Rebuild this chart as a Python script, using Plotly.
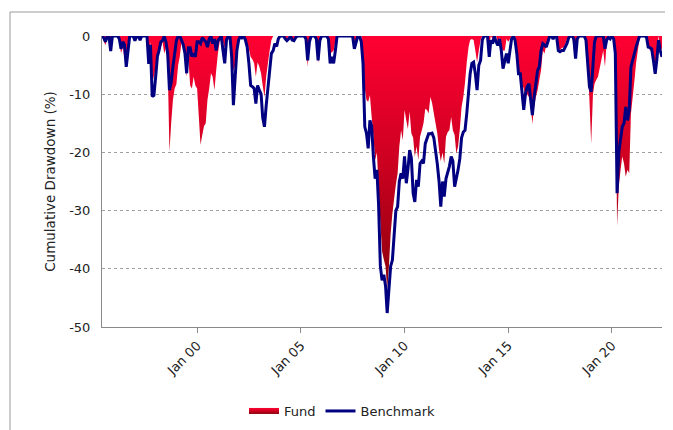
import pandas as pd
import plotly.graph_objects as go

# Monthly month-end observations, May 1995 .. May 2022
start_month = "1995-05-31"
n_months = 325

fund = [
    # 1995 (May-Dec)
    0, -0.8, -1.6, -0.3, 0, -1.5, 0, 0,
    # 1996
    0, 0, -0.5, -3.0, -1.8, -3.9, -4.5, -2.0, 0, 0, 0, -0.3,
    # 1997
    0, 0, -0.3, 0, 0, 0, 0, -5.0, -1.0, -6.0, -7.5, -5.0,
    # 1998
    -4.0, -3.0, -2.0, -1.0, -3.0, -2.0, -5.0, -19.9, -15.0, -11.0, -9.0, -8.3,
    # 1999
    -5.0, -3.6, -1.0, -1.0, -3.0, -7.0, -4.0, -8.5, -9.0, -7.0, -8.5, -9.0,
    # 2000
    -14.0, -18.7, -17.0, -15.5, -15.0, -11.0, -9.0, -6.4, -7.0, -9.3, -6.0, -3.0,
    # 2001
    -1.0, 0, -1.0, -2.0, -0.5, 0, -1.0, -3.0, -6.0, -5.0, -2.0, -1.0,
    # 2002
    0, 0, 0, -0.5, -1.3, -2.2, -3.6, -4.0, -4.7, -7.0, -4.5, -5.3,
    # 2003
    -6.5, -8.5, -10.5, -7.0, -4.7, -2.5, -0.7, 0, 0, 0, 0, 0,
    # 2004
    0, 0, -0.3, -0.5, 0, 0, -0.5, -0.5, 0, 0, 0, 0,
    # 2005
    0, 0, -0.5, -5.3, -1.5, 0, 0, 0, -0.5, -4.7, -1.0, 0,
    # 2006
    0, 0, 0, -0.3, -3.0, -2.8, -2.5, -1.0, 0, 0, 0, 0,
    # 2007
    0, 0, 0, 0, 0, 0, -1.5, -1.0, 0, 0, 0, -3.0,
    # 2008
    -9.0, -11.0, -11.3, -10.2, -13.9, -17.0, -21.3, -20.0, -26.0, -32.0, -37.0, -38.4,
    # 2009
    -39.6, -43.6, -39.6, -34.0, -30.5, -28.0, -25.5, -23.6, -19.0, -16.2, -17.9, -12.7,
    # 2010
    -14.5, -16.0, -13.0, -16.7, -17.5, -20.7, -19.0, -21.3, -17.3, -16.2, -15.0, -12.5,
    # 2011
    -12.7, -13.3, -10.5, -11.5, -13.3, -15.0, -16.7, -19.6, -21.5, -20.0, -21.9, -17.3,
    # 2012
    -16.5, -16.2, -13.9, -16.2, -17.0, -20.2, -19.0, -16.0, -12.2, -10.5, -8.0, -4.5,
    # 2013
    -1.9, -0.7, -0.5, -0.7, -2.5, -4.5, -2.5, -0.7, 0, 0, 0, 0,
    # 2014
    -1.5, 0, -0.5, 0, 0, -1.0, -0.3, -2.0, -2.5, -2.5, -0.5, -1.0,
    # 2015
    -0.5, 0, 0, 0, -1.9, -5.3, -7.0, -8.2, -9.0, -10.5, -10.0, -10.5,
    # 2016
    -11.6, -15.1, -12.2, -10.5, -9.3, -7.6, -5.9, -2.5, -3.0, -1.5, -0.7, 0,
    # 2017
    0, 0, 0, 0, -2.0, -2.5, -2.0, -2.0, -1.5, -0.5, 0, 0,
    # 2018
    0, -2.5, -3.0, -0.5, 0, 0, 0, 0, 0, -5.0, -11.0, -18.5,
    # 2019
    -10.0, -8.2, -7.5, -7.0, -5.5, -4.0, -2.5, -5.3, -1.0, 0, 0, 0,
    # 2020
    0, -3.0, -32.6, -25.9, -23.0, -20.7, -21.9, -24.2, -23.0, -23.6, -13.3, -10.5,
    # 2021
    -7.6, -4.7, -2.5, -0.5, 0, 0, 0, 0, -1.5, -2.5, -2.5, -3.0,
    # 2022 (Jan-May)
    -5.5, -3.5, 0, -1.5, -2.5,
]

benchmark = [
    # 1995 (May-Dec)
    0, -0.3, -1.0, 0, 0, -2.6, 0, 0,
    # 1996
    0, 0, -0.5, -2.2, -1.0, -1.5, -5.3, -3.0, 0, 0, 0, -0.8,
    # 1997
    0, 0, -0.7, 0, 0, 0, 0, -4.8, -1.5, -10.4, -10.2, -7.0,
    # 1998
    -3.5, -2.5, -1.0, -0.8, 0, -1.0, -3.0, -9.3, -8.0, -5.3, -2.5, -0.8,
    # 1999
    0, 0, -0.7, -1.5, -3.0, -6.4, -2.0, -2.0, -3.5, -3.0, -3.6, -1.0,
    # 2000
    -1.0, -1.3, -0.3, -0.7, -1.0, -1.9, -0.5, 0, -1.3, -0.5, -2.5, -0.8,
    # 2001
    -0.3, 0, -2.5, -4.7, -0.7, 0, 0, -3.6, -11.9, -5.9, -2.5, -0.7,
    # 2002
    0, -0.3, 0, -0.7, -1.9, -4.7, -8.5, -8.7, -9.0, -11.6, -8.5, -9.3,
    # 2003
    -10.0, -14.0, -15.6, -12.0, -9.0, -5.5, -3.0, -2.5, -1.3, -1.8, -0.5, 0,
    # 2004
    0, 0, -0.5, -0.8, -0.5, 0, -0.7, -0.8, -0.3, 0, 0, 0,
    # 2005
    0, 0, -0.5, -4.2, -1.0, 0, 0, 0, -0.5, -4.2, -0.8, 0,
    # 2006
    0, 0, 0, -0.5, -4.7, -3.6, -4.7, -2.5, 0, 0, 0, 0,
    # 2007
    0, 0, 0, 0, 0, 0, -2.2, -1.0, 0, 0, -1.0, -4.7,
    # 2008
    -15.6, -16.7, -19.3, -14.5, -15.5, -20.7, -24.5, -23.0, -29.0, -39.5, -42.0, -41.0,
    # 2009
    -43.0, -47.6, -42.5, -39.6, -38.5, -34.0, -30.0, -29.3, -25.0, -23.6, -24.5, -20.7,
    # 2010
    -25.3, -23.0, -19.6, -21.0, -27.0, -28.5, -24.7, -25.9, -21.9, -21.5, -21.9, -18.5,
    # 2011
    -17.5, -16.8, -16.8, -16.7, -17.5, -19.6, -22.0, -25.0, -29.3, -25.0, -27.6, -24.5,
    # 2012
    -23.6, -22.4, -20.7, -21.5, -25.9, -24.7, -23.0, -21.0, -17.5, -16.5, -16.2, -13.3,
    # 2013
    -8.7, -6.5, -4.7, -4.5, -6.5, -9.3, -5.0, -4.2, -0.7, 0, 0, 0,
    # 2014
    -3.6, -0.7, -1.3, 0, -1.0, -1.6, -0.5, -2.5, -5.6, -4.0, -3.0, -4.7,
    # 2015
    -2.5, -0.5, 0, -0.7, -3.0, -6.5, -6.5, -9.9, -12.7, -9.9, -8.7, -8.2,
    # 2016
    -10.5, -13.6, -10.5, -8.2, -5.9, -5.3, -2.5, -1.3, -1.5, -1.9, -0.7, 0,
    # 2017
    0, -0.5, 0, 0, -2.5, -2.7, -2.5, -2.5, -1.9, -1.3, -0.3, 0,
    # 2018
    0, -0.5, -3.9, -0.5, 0, 0, 0, 0, -0.7, -4.7, -8.7, -9.6,
    # 2019
    -5.0, -1.0, 0, 0, 0, 0, 0, -2.2, -0.7, -0.2, -0.5, 0,
    # 2020
    -0.5, -3.0, -27.0, -20.0, -17.9, -15.6, -15.0, -12.2, -14.5, -12.7, -5.3, -3.9,
    # 2021
    -3.0, -1.9, -0.7, 0, 0, 0, 0, -0.2, -1.9, -2.0, -2.2, -4.2,
    # 2022 (Jan-May)
    -6.5, -4.2, -0.7, -2.5, -3.6,
]

y_ticks = [0, -10, -20, -30, -40, -50]
y_tick_labels = ["0", "-10", "-20", "-30", "-40", "-50"]
series_names = ["Fund", "Benchmark"]
y_title = "Cumulative Drawdown (%)"

try:
    dates = pd.date_range(start_month, periods=n_months, freq="ME")
except ValueError:
    dates = pd.date_range(start_month, periods=n_months, freq="M")
dates = [d.strftime("%Y-%m-%d") for d in dates]

FONT = "DejaVu Sans"
TXT = "#222222"
AXC = "#8a8a8a"

# page body adds an 8px offset; figure is sized to fit the window
W, H = 665, 422
ML, MR, MT, MB = 94, 11, 28, 103
PW, PH = W - ML - MR, H - MT - MB

fig = go.Figure()
fig.add_trace(go.Scatter(
    x=dates, y=fund, name=series_names[0], mode="none", fill="tozeroy",
    fillgradient=dict(type="vertical",
                      colorscale=[[0, "#8c000c"], [0.5, "#cc0020"], [1, "#ff0033"]]),
))
fig.add_trace(go.Scatter(
    x=dates, y=benchmark, name=series_names[1], mode="lines",
    line=dict(color="#000080", width=3),
))

fig.update_layout(
    width=W, height=H,
    margin=dict(l=ML, r=MR, t=MT, b=MB, autoexpand=False),
    paper_bgcolor="white", plot_bgcolor="white",
    font=dict(family=FONT, size=13, color=TXT),
    showlegend=True,
    legend=dict(orientation="h", xref="container", yref="container",
                x=0.503, xanchor="center", y=0.045, yanchor="middle",
                font=dict(family=FONT, size=13, color=TXT)),
    shapes=[dict(type="rect", xref="paper", yref="paper",
                 x0=(2 - ML) / PW, x1=(661 - ML) / PW,
                 y0=-0.5, y1=(MT + PH - 4) / PH,
                 line=dict(color="#9a9a9a", width=1), fillcolor="rgba(0,0,0,0)",
                 layer="below")],
)
fig.update_xaxes(
    type="date", tickformat="%b %y", dtick="M60", tick0="2000-01-01",
    tickangle=-45, ticks="outside", ticklen=5, tickcolor=AXC,
    showline=True, linecolor=AXC, linewidth=1, showgrid=False, zeroline=False,
    tickfont=dict(family=FONT, size=13, color=TXT),
)
fig.update_yaxes(
    range=[-50, 0], tickvals=y_ticks, ticktext=y_tick_labels,
    showgrid=True, gridcolor="#a0a0a0",
    griddash="dot", gridwidth=1, zeroline=False, showline=True, linecolor=AXC,
    linewidth=1, ticks="", ticklabelstandoff=8,
    tickfont=dict(family=FONT, size=13, color=TXT),
    title=dict(text=y_title, standoff=10, font=dict(family=FONT, size=13.5, color=TXT)),
)

fig.write_html("out.html")
